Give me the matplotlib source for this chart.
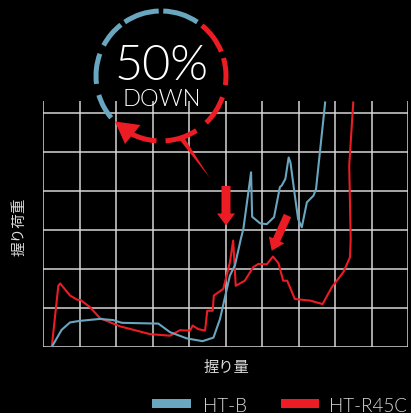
import matplotlib
matplotlib.use('Agg')
import matplotlib.pyplot as plt
from matplotlib.patches import Arc, Polygon, Rectangle, FancyArrow

# 握り量 (x) / 握り荷重 (y), grid units
htb_x = [0.24, 0.51, 0.74, 1.01, 1.56, 1.92, 2.16, 3.16, 3.48, 3.94, 4.37, 4.67, 4.85, 5.12,
         5.26, 5.42, 5.49, 5.70, 5.73, 5.95, 6.13, 6.33, 6.49, 6.54, 6.64, 6.73, 6.78, 6.90,
         6.99, 7.09, 7.23, 7.41, 7.48, 7.73]
htb_y = [0.00, 0.44, 0.63, 0.67, 0.72, 0.69, 0.62, 0.60, 0.38, 0.22, 0.15, 0.24, 0.72, 1.83,
         2.10, 2.77, 3.03, 4.48, 3.34, 3.17, 3.15, 3.33, 4.10, 4.14, 4.31, 4.86, 4.73, 3.88,
         3.28, 3.07, 3.71, 3.88, 4.05, 6.27]

r45c_x = [0.24, 0.42, 0.47, 0.74, 0.94, 1.02, 1.29, 1.56, 2.11, 2.93, 3.48, 3.75, 4.03, 4.10,
          4.25, 4.44, 4.50, 4.65, 4.68, 4.94, 5.12, 5.21, 5.28, 5.53, 5.76, 5.90, 6.13, 6.30,
          6.45, 6.58, 6.69, 6.90, 7.32, 7.66, 7.91, 8.23, 8.41, 8.43, 8.39, 8.50]
r45c_y = [0.00, 1.57, 1.63, 1.32, 1.21, 1.21, 1.02, 0.74, 0.53, 0.33, 0.29, 0.43, 0.42, 0.55,
          0.46, 0.42, 0.93, 0.93, 1.32, 1.49, 2.17, 2.73, 1.57, 1.70, 2.05, 2.13, 2.12, 2.32,
          2.15, 1.70, 1.70, 1.23, 1.19, 1.10, 1.53, 1.92, 2.30, 2.77, 4.65, 6.27]

labels = ['HT-B', 'HT-R45C']
blue = '#69a6bf'
red = '#ec1c24'
grid_c = '#d6d6d6'
txt_c = '#dcdcdc'
num_font = ['Lato', 'DejaVu Sans']
jp_font = ['Noto Sans CJK JP', 'DejaVu Sans']

fig = plt.figure(figsize=(4.11, 4.14), dpi=100, facecolor='black')
ax = fig.add_axes([43 / 411, 1 - 348 / 414, 365 / 411, 246 / 414])
ax.set_facecolor('black')
ax.set_xlim(0, 10)
ax.set_ylim(0, 246 / 39)
for s in ax.spines.values():
    s.set_visible(False)
ax.set_xticks([])
ax.set_yticks([])

# grid
ax.hlines(range(7), 0, 10, color=grid_c, lw=1.1, zorder=1)
ax.vlines(range(11), 0, 246 / 39, color=grid_c, lw=1.1, zorder=1)

ax.plot(r45c_x, r45c_y, color=red, lw=1.5, zorder=3)
ax.plot(htb_x, htb_y, color=blue, lw=1.5, zorder=3)

# overlay in pixel coordinates for decorations
ov = fig.add_axes([0, 0, 1, 1], facecolor='none')
ov.set_xlim(0, 411)
ov.set_ylim(414, 0)
ov.axis('off')

cx, cy, rad = 161, 77, 65
# y axis inverted -> angles flip sign
blue_segs = [(56, 88), (92, 124), (128, 152), (160, 187), (197, 220)]
red_segs = [(22, 51), (-8, 16), (-46, -19), (-86, -57), (-121, -94)]
for a1, a2 in blue_segs:
    ov.add_patch(Arc((cx, cy), 2 * rad, 2 * rad, theta1=-a2, theta2=-a1,
                     color=blue, lw=3.6, capstyle='butt'))
for a1, a2 in red_segs:
    ov.add_patch(Arc((cx, cy), 2 * rad, 2 * rad, theta1=-a2, theta2=-a1,
                     color=red, lw=3.6, capstyle='butt'))
ov.add_patch(Polygon([(115, 122.5), (125, 145), (140.5, 126)], closed=True, color=red, lw=0))
# thin pointer from circle towards the curves
ov.add_patch(Polygon([(179, 140), (185, 140), (209.5, 178.5)], closed=True, color=red, lw=0))

ov.text(161.5, 67, '50%', color='white', fontsize=35, family=num_font, fontweight=300,
        ha='center', va='center')
ov.text(161.5, 100, 'DOWN', color='white', fontsize=17, family=num_font, fontweight=300,
        ha='center', va='center')

# arrows
ov.add_patch(FancyArrow(226, 187, 0, 39.5, width=9, head_width=18, head_length=12,
                        length_includes_head=True, color=red, lw=0))
ov.add_patch(FancyArrow(287.5, 216.5, -15.8, 35.3, width=8, head_width=17, head_length=12,
                        length_includes_head=True, color=red, lw=0))

# axis labels
ov.text(20, 227, '握り荷重', rotation=90, color=txt_c, fontsize=10.5, family=jp_font,
        ha='center', va='center')
ov.text(226, 368, '握り量', color=txt_c, fontsize=11, family=jp_font,
        ha='center', va='center')

# legend
ov.add_patch(Rectangle((151.5, 400.5), 39, 9, color=blue, lw=0))
ov.text(203, 412, labels[0], color=txt_c, fontsize=13.5, family=num_font, fontweight=300,
        ha='left', va='baseline')
ov.add_patch(Rectangle((281, 400.5), 38, 9, color=red, lw=0))
ov.text(329, 412, labels[1], color=txt_c, fontsize=13.5, family=num_font, fontweight=300,
        ha='left', va='baseline')

fig.savefig('out.png', dpi=100, facecolor='black')
